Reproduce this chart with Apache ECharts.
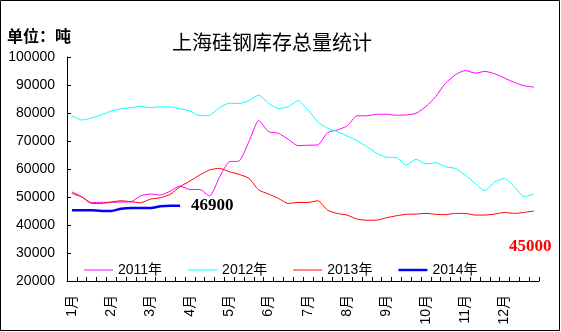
<!DOCTYPE html>
<html><head><meta charset="utf-8">
<script src="https://cdn.jsdelivr.net/npm/echarts@6/dist/echarts.min.js"></script>
<style>html,body{margin:0;padding:0;background:#fff}#c{width:561px;height:332px}</style>
</head><body><div id="c"></div>
<script>
const months = ['1月','2月','3月','4月','5月','6月','7月','8月','9月','10月','11月','12月'];
const weeksPerMonth = 4;
const seriesNames = ['2011年','2012年','2013年','2014年'];
const s2011 = [51200,50000,48000,48100,48100,48200,48300,50450,51050,50700,52100,53900,52700,52700,50350,57000,62600,62850,69800,77300,73350,72750,70600,68350,68500,68600,73000,73950,75400,79000,79000,79550,79550,79200,79300,79900,82300,85900,90650,93650,95200,94250,94850,94000,92450,90900,89700,89250];
const s2012 = [79000,77500,78250,79300,80750,81500,81900,82400,81900,82200,82200,81500,80750,79000,79200,81900,83500,83400,84400,86400,83500,81600,82200,84400,81100,76900,74550,73350,71800,70100,68000,65600,64200,64100,61400,63500,61800,62250,60800,60200,57800,54900,52200,55450,56650,53650,50100,51050];
const s2013 = [51800,50100,47700,47700,48200,48650,48300,47950,49250,49750,50950,53700,55700,57850,59650,60250,59050,58100,56650,52500,51050,49500,47700,48050,48050,48650,45300,44100,43550,42100,41700,41750,42600,43300,43800,43900,44150,43800,43700,44150,44150,43550,43550,43900,44500,44150,44500,45000];
const s2014 = [45300,45300,45300,45000,45000,45800,46100,46100,46100,46700,46900,46900];
const yTicks = [20000,30000,40000,50000,60000,70000,80000,90000,100000];

const categories = [];
months.forEach((m) => { for (let w = 0; w < weeksPerMonth; w++) categories.push(m + '#' + w); });

const chart = echarts.init(document.getElementById('c'), null, {renderer: 'canvas'});
const baseFont = 'Liberation Sans, Noto Sans CJK SC, sans-serif';
const thinIcon = 'path://M0,0h30v1h-30z';
const thickIcon = 'path://M0,0h30v2.5h-30z';
function mk(name, data, color, width, extra) {
  return Object.assign({
    name, type: 'line', data, symbol: 'none', smooth: 0.2,
    lineStyle: {color, width}, itemStyle: {color}, animation: false
  }, extra || {});
}
chart.setOption({
  animation: false,
  title: {
    text: '上海硅钢库存总量统计', left: 167, top: 27,
    textStyle: {fontSize: 20, fontWeight: 'normal', color: '#000', fontFamily: 'Noto Sans CJK SC, sans-serif'}
  },
  graphic: [
    {type: 'rect', shape: {x: 0.5, y: 0.5, width: 559, height: 330}, style: {fill: 'none', stroke: '#000', lineWidth: 1}, silent: true},
    {type: 'text', left: 7, top: 28, style: {text: '单位：吨', font: 'bold 16px Noto Sans CJK SC, sans-serif', fill: '#000'}}
  ],
  grid: {left: 67, top: 57, width: 472, height: 224, containLabel: false},
  legend: {
    data: [
      {name: seriesNames[0], icon: thinIcon},
      {name: seriesNames[1], icon: thinIcon},
      {name: seriesNames[2], icon: thinIcon},
      {name: seriesNames[3], icon: thickIcon}
    ],
    left: 84, top: 263, padding: 0, itemWidth: 29, itemHeight: 14, itemGap: 26, symbolKeepAspect: true,
    textStyle: {fontSize: 14, color: '#000', fontFamily: baseFont}
  },
  xAxis: {
    type: 'category', data: categories, boundaryGap: true,
    axisLine: {lineStyle: {color: '#000', width: 1}},
    axisTick: {show: true, inside: true, length: 4, interval: 0, lineStyle: {color: '#000'}},
    axisLabel: {
      interval: weeksPerMonth - 1, rotate: 90, margin: 14, color: '#000', fontSize: 14, fontFamily: baseFont,
      formatter: v => v.split('#')[0]
    },
    splitLine: {show: false}
  },
  yAxis: {
    type: 'value', min: yTicks[0], max: yTicks[yTicks.length - 1], interval: 10000,
    axisLine: {show: true, lineStyle: {color: '#000', width: 1}},
    axisTick: {show: true, inside: true, length: 4, lineStyle: {color: '#000'}},
    axisLabel: {margin: 12, color: '#000', fontSize: 14, fontFamily: baseFont, formatter: v => String(v)},
    splitLine: {show: false}
  },
  series: [
    mk(seriesNames[0], s2011, '#FF00FF', 1),
    mk(seriesNames[1], s2012, '#00FFFF', 1),
    mk(seriesNames[2], s2013, '#FF0000', 1, {
      endLabel: {show: true, distance: 0, offset: [-25, 36], color: '#FF0000',
        fontSize: 17, fontWeight: 'bold', fontFamily: 'Liberation Serif, serif',
        formatter: p => String(p.value)}
    }),
    mk(seriesNames[3], s2014, '#0000FF', 2.5, {
      z: 5,
      endLabel: {show: true, distance: 11, color: '#000',
        fontSize: 17, fontWeight: 'bold', fontFamily: 'Liberation Serif, serif',
        formatter: p => String(p.value)}
    })
  ]
});
</script></body></html>
